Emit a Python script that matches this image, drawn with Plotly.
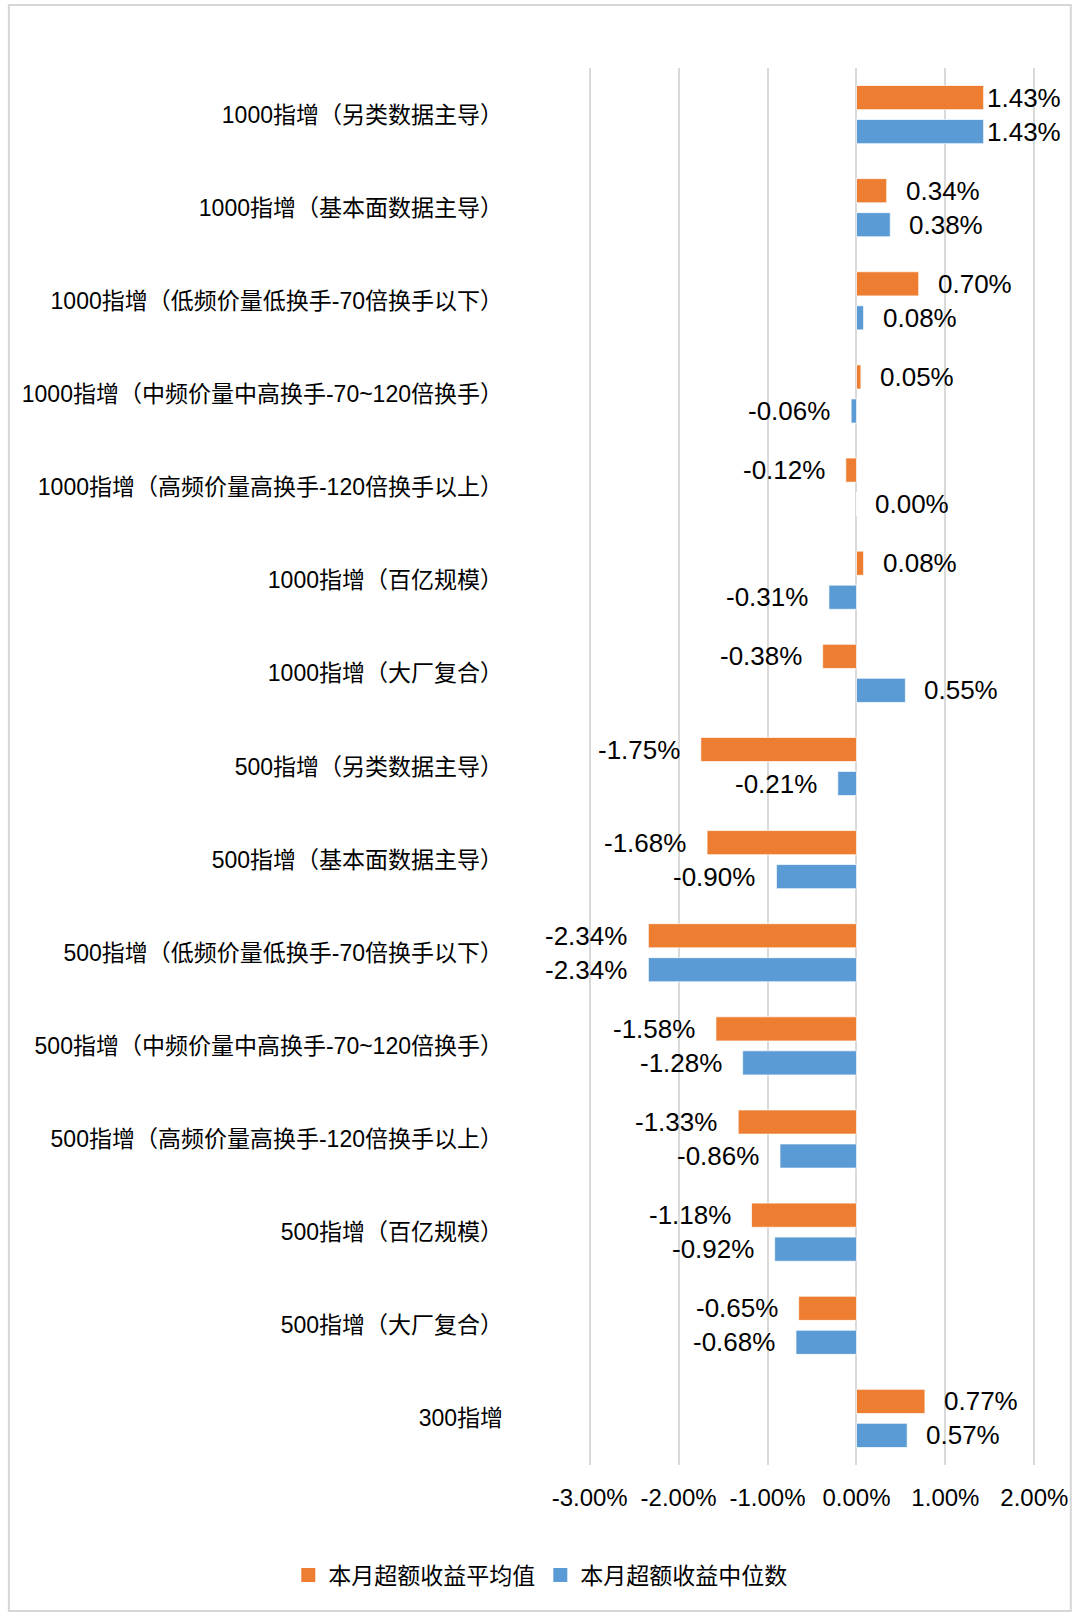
import plotly.graph_objects as go

categories = [
    "1000指增（另类数据主导）",
    "1000指增（基本面数据主导）",
    "1000指增（低频价量低换手-70倍换手以下）",
    "1000指增（中频价量中高换手-70~120倍换手）",
    "1000指增（高频价量高换手-120倍换手以上）",
    "1000指增（百亿规模）",
    "1000指增（大厂复合）",
    "500指增（另类数据主导）",
    "500指增（基本面数据主导）",
    "500指增（低频价量低换手-70倍换手以下）",
    "500指增（中频价量中高换手-70~120倍换手）",
    "500指增（高频价量高换手-120倍换手以上）",
    "500指增（百亿规模）",
    "500指增（大厂复合）",
    "300指增",
]
mean_vals = [1.43, 0.34, 0.70, 0.05, -0.12, 0.08, -0.38, -1.75, -1.68, -2.34, -1.58, -1.33, -1.18, -0.65, 0.77]
median_vals = [1.43, 0.38, 0.08, -0.06, 0.00, -0.31, 0.55, -0.21, -0.90, -2.34, -1.28, -0.86, -0.92, -0.68, 0.57]
series_names = ["本月超额收益平均值", "本月超额收益中位数"]
x_ticks = [-3, -2, -1, 0, 1, 2]

W, H = 1080, 1618
ML, MR, MT, MB = 587, 40, 68, 153
PW, PH = W - ML - MR, H - MT - MB
XMIN, XMAX = -3.03, 2.03
BARGAP, GROUPGAP = 0.27, 0.29

ORANGE, BLUE = "#ED7D31", "#5B9BD5"
NUM_FONT = "Liberation Sans, Arial, Helvetica, sans-serif"
MIX_FONT = "Liberation Sans, Noto Sans CJK SC, sans-serif"
CJK_FONT = "Noto Sans CJK SC, sans-serif"

fig = go.Figure()
for name, vals, col in [(series_names[0], mean_vals, ORANGE), (series_names[1], median_vals, BLUE)]:
    fig.add_trace(go.Bar(
        y=categories, x=vals, name=name, orientation="h", showlegend=False,
        marker=dict(color=col, line=dict(color="rgba(255,255,255,0.7)", width=1)),
        hoverinfo="skip",
    ))
# legend entries with larger square swatches
for name, col in [(series_names[0], ORANGE), (series_names[1], BLUE)]:
    fig.add_trace(go.Scatter(
        x=[None], y=[None], mode="markers", name=name,
        marker=dict(symbol="square", size=14, color=col),
    ))

# data labels (outside end)
slot = (1 - BARGAP) / 2
ppu = PW / (XMAX - XMIN)
label_w = 74
right_limit = 1062
annotations = []
for k, vals in enumerate([mean_vals, median_vals]):
    off = -slot / 2 if k == 0 else slot / 2
    for i, v in enumerate(vals):
        px = ML + (v - XMIN) * ppu
        if v >= 0:
            shift = 17
            if px + shift + label_w > right_limit:
                shift = right_limit - label_w - px
            anchor = "left"
        else:
            shift = -19
            anchor = "right"
        annotations.append(dict(
            x=v, y=i + off, xref="x", yref="y", text=f"{v:.2f}%",
            showarrow=False, xanchor=anchor, yanchor="middle", xshift=shift,
            font=dict(family=NUM_FONT, size=26, color="#000000"),
        ))

fig.update_layout(
    width=W, height=H,
    margin=dict(l=ML, r=MR, t=MT, b=MB, pad=0),
    paper_bgcolor="white", plot_bgcolor="white",
    barmode="group", bargap=BARGAP, bargroupgap=GROUPGAP,
    showlegend=True,
    legend=dict(
        orientation="h", x=(W / 2 - ML) / PW, xanchor="center",
        y=(MT + PH - 1575) / PH, yanchor="middle",
        font=dict(family=CJK_FONT, size=23, color="#000000"),
        itemclick=False, itemdoubleclick=False, traceorder="normal",
        bgcolor="rgba(0,0,0,0)",
    ),
    annotations=annotations,
    shapes=[dict(
        type="rect", xref="paper", yref="paper",
        x0=(5 - ML) / PW, x1=(1074 - ML) / PW,
        y0=(MT + PH - 1611) / PH, y1=(MT + PH - 5) / PH,
        line=dict(color="#D6D6D6", width=2), fillcolor="rgba(0,0,0,0)", layer="below",
    )],
)
fig.update_xaxes(
    range=[XMIN, XMAX], tickvals=x_ticks,
    ticktext=[f"{t:.2f}%" for t in x_ticks],
    showgrid=True, gridcolor="#D9D9D9", gridwidth=1.5,
    zeroline=False, showline=False, ticks="",
    tickfont=dict(family=NUM_FONT, size=24, color="#000000"),
    ticklabelstandoff=16,
)
fig.update_yaxes(
    autorange="reversed", showgrid=False, zeroline=False, showline=False, ticks="",
    tickfont=dict(family=MIX_FONT, size=23, color="#000000"),
    ticklabelstandoff=83,
)

fig.write_html("out.html")
